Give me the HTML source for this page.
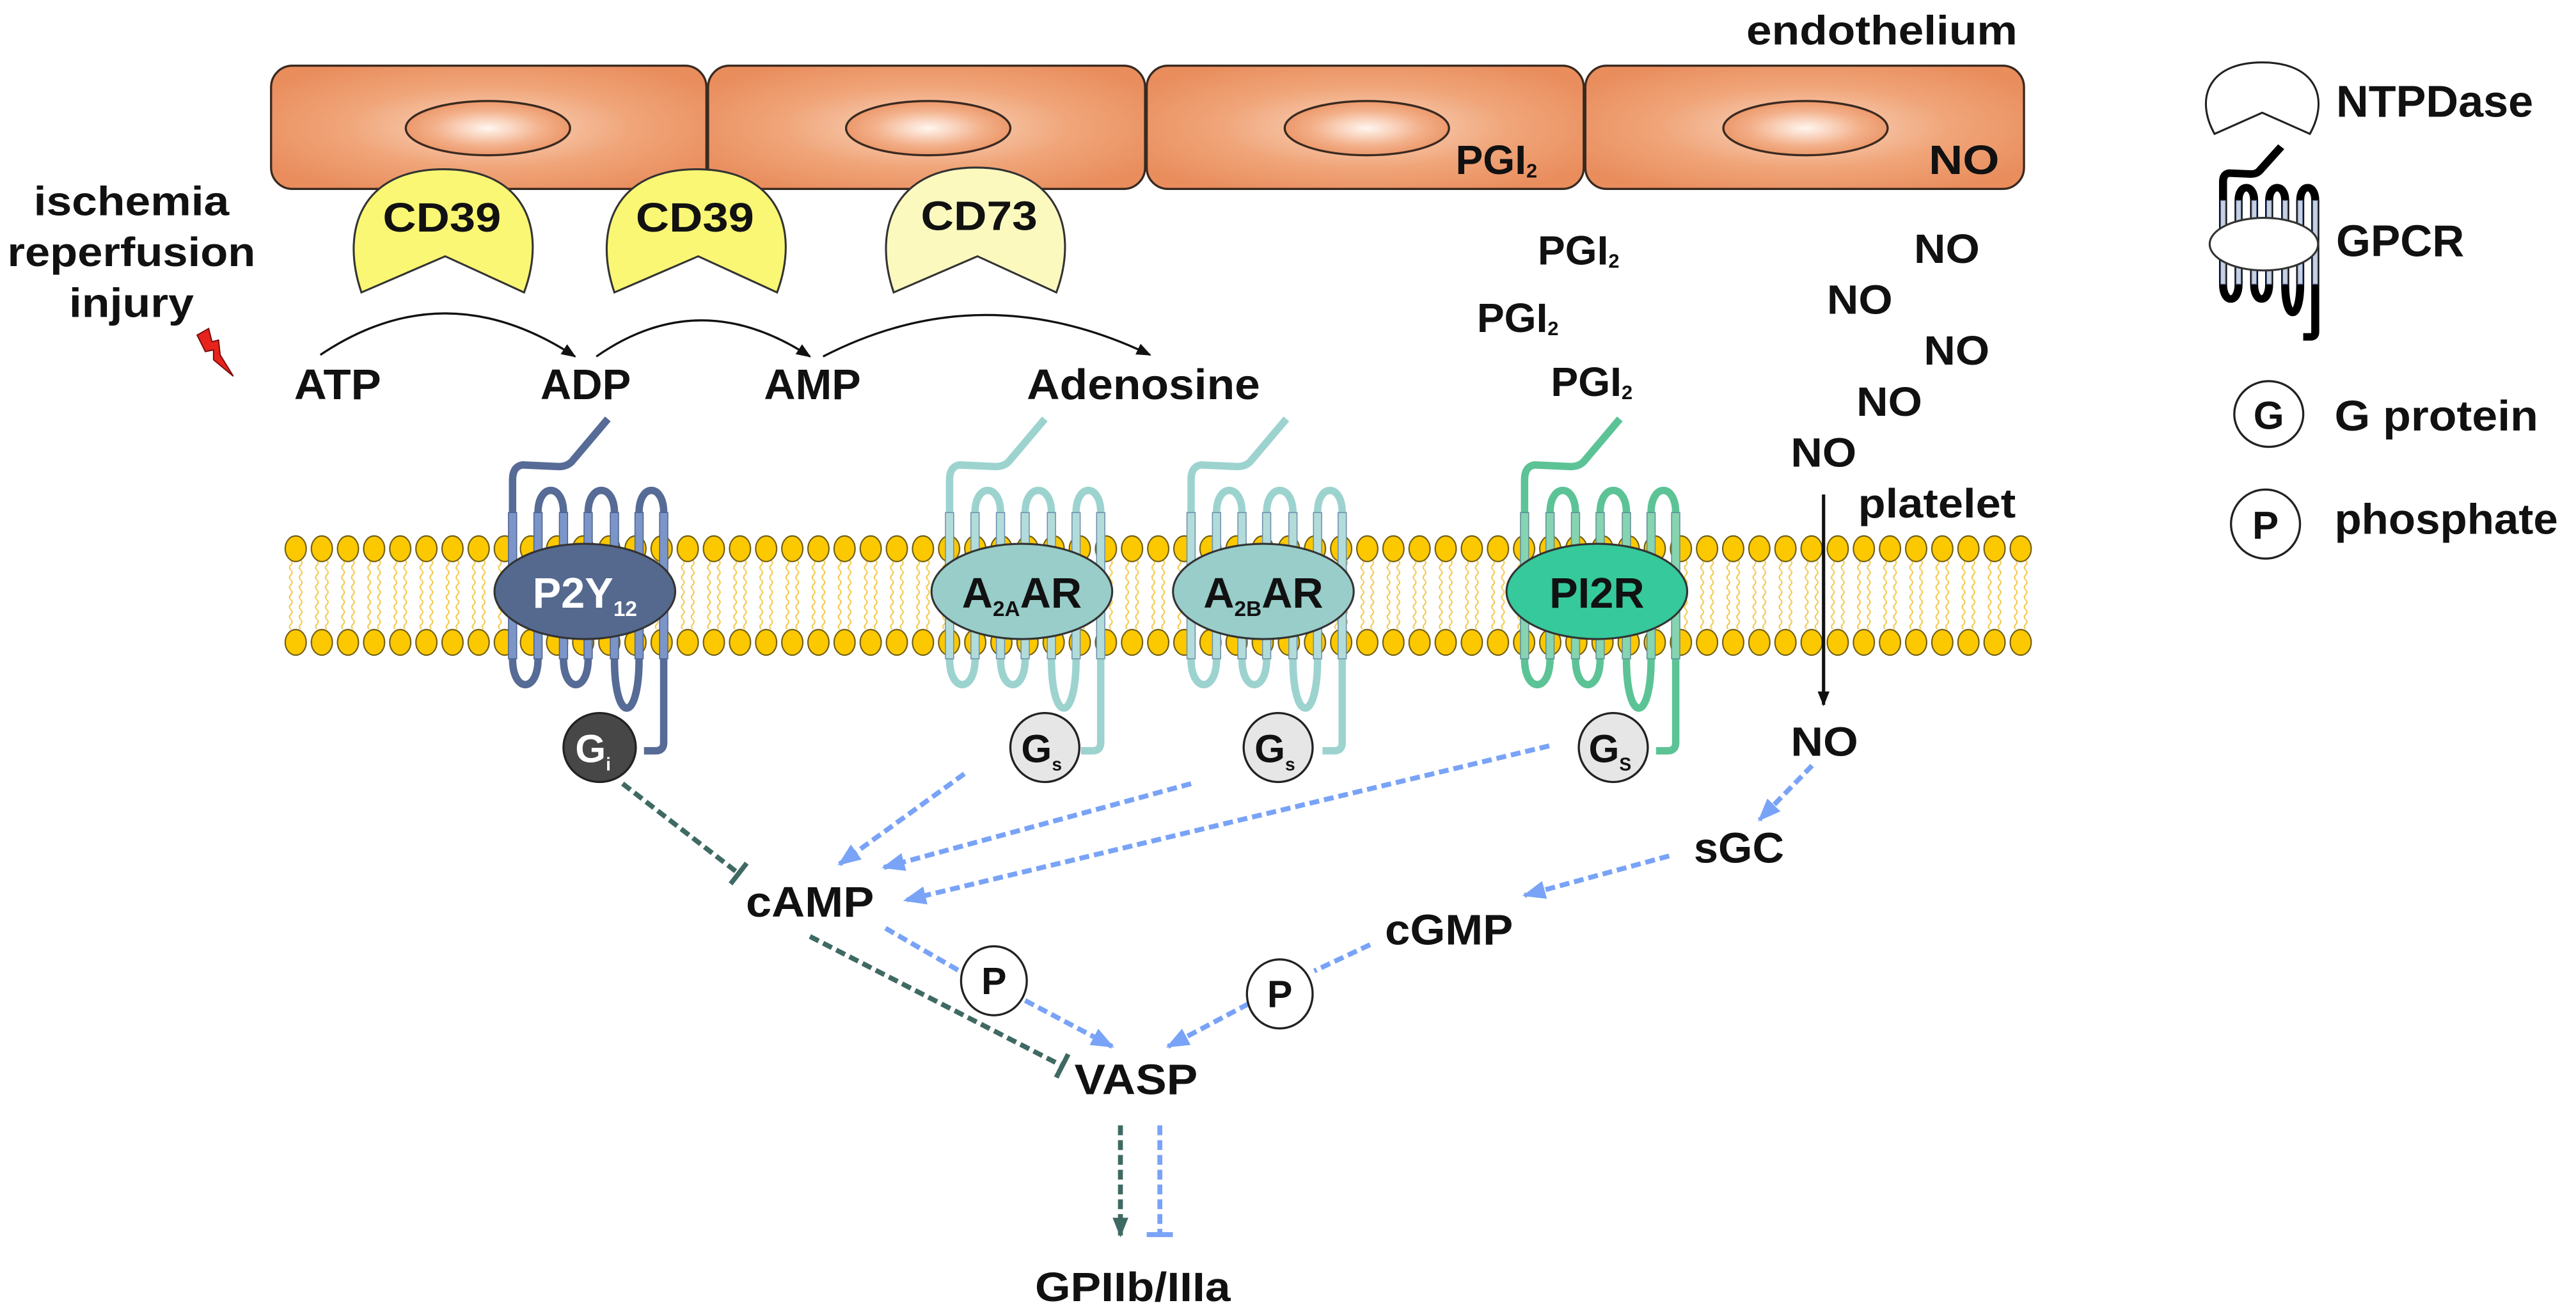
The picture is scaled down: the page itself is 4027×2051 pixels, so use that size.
<!DOCTYPE html>
<html><head><meta charset="utf-8">
<style>
html,body{margin:0;padding:0;background:#fff;}
svg{display:block;}
text{font-family:"Liberation Sans",Arial,sans-serif;font-weight:bold;fill:#111;}
</style></head>
<body>
<svg xmlns="http://www.w3.org/2000/svg" xmlns:xlink="http://www.w3.org/1999/xlink" width="4027" height="2051" viewBox="0 0 1568 798.6" preserveAspectRatio="none">
<defs>
<radialGradient id="cell" cx="50%" cy="50%" r="60%">
<stop offset="0" stop-color="#fad9c4"/><stop offset="0.55" stop-color="#f0a579"/><stop offset="1" stop-color="#e98d5d"/>
</radialGradient>
<radialGradient id="nuc" cx="50%" cy="50%" r="55%">
<stop offset="0" stop-color="#fff6f0"/><stop offset="0.6" stop-color="#f3b08a"/><stop offset="1" stop-color="#ea9262"/>
</radialGradient>
<pattern id="heads" patternUnits="userSpaceOnUse" x="172.045" y="325.5" width="15.909" height="17">
<ellipse cx="7.955" cy="8.5" rx="6.4" ry="7.8" fill="#fcc800" stroke="#6b5a10" stroke-width="0.8"/>
</pattern>
<pattern id="tails" patternUnits="userSpaceOnUse" x="172.045" y="341" width="15.909" height="6">
<path d="M4.955,0 Q6.555,1.5 4.955,3 Q3.355,4.5 4.955,6 M10.955,0 Q12.555,1.5 10.955,3 Q9.355,4.5 10.955,6" fill="none" stroke="#f3c94a" stroke-width="0.8"/>
</pattern>
<path id="chain" fill="none" stroke-linejoin="round" d="M14,255 L-8,281 Q-11,284 -16,284 L-38,283 Q-44,284 -44,292 V401 C-44,422 -28.5,422 -28.5,401 V312 C-28.5,294 -13,294 -13,312 V401 C-13,422 2,422 2,401 V312 C2,294 18,294 18,312 V401 C18,441 33,441 33,401 V312 C33,294 48,294 48,312 V452 Q48,457 43,457 L36,457"/>
<g id="hel">
<rect x="-46.5" y="312" width="5" height="89"/>
<rect x="-31" y="312" width="5" height="89"/>
<rect x="-15.5" y="312" width="5" height="89"/>
<rect x="-0.5" y="312" width="5" height="89"/>
<rect x="15.5" y="312" width="5" height="89"/>
<rect x="30.5" y="312" width="5" height="89"/>
<rect x="45.5" y="312" width="5" height="89"/>
</g>
<marker id="ab" markerUnits="userSpaceOnUse" markerWidth="14" markerHeight="14" refX="9" refY="5" orient="auto" viewBox="0 0 10 10"><path d="M0,1 L10,5 L0,9 Z" fill="#79a3f7"/></marker>
<marker id="ad" markerUnits="userSpaceOnUse" markerWidth="12" markerHeight="12" refX="9" refY="5" orient="auto" viewBox="0 0 10 10"><path d="M0,1 L10,5 L0,9 Z" fill="#3f6a63"/></marker>
<marker id="ak" markerUnits="userSpaceOnUse" markerWidth="9" markerHeight="9" refX="9" refY="5" orient="auto" viewBox="0 0 10 10"><path d="M0,1 L10,5 L0,9 Z" fill="#111"/></marker>
<marker id="tb" markerUnits="userSpaceOnUse" markerWidth="4" markerHeight="16" refX="2" refY="8" orient="auto" viewBox="0 0 4 16"><rect x="0" y="0" width="3" height="16" fill="#79a3f7"/></marker>
<marker id="td" markerUnits="userSpaceOnUse" markerWidth="4" markerHeight="16" refX="2" refY="8" orient="auto" viewBox="0 0 4 16"><rect x="0" y="0" width="3" height="16" fill="#3f6a63"/></marker>
</defs>

<!-- endothelium cells -->
<g stroke="#3a2a20" stroke-width="1.3">
<rect x="165" y="40" width="265" height="75" rx="13" fill="url(#cell)"/>
<rect x="431" y="40" width="266" height="75" rx="13" fill="url(#cell)"/>
<rect x="698" y="40" width="266" height="75" rx="13" fill="url(#cell)"/>
<rect x="965" y="40" width="267" height="75" rx="13" fill="url(#cell)"/>
<ellipse cx="297" cy="78" rx="50" ry="16.5" fill="url(#nuc)"/>
<ellipse cx="565" cy="78" rx="50" ry="16.5" fill="url(#nuc)"/>
<ellipse cx="832" cy="78" rx="50" ry="16.5" fill="url(#nuc)"/>
<ellipse cx="1099" cy="78" rx="50" ry="16.5" fill="url(#nuc)"/>
</g>
<text x="1063" y="27" font-size="25" textLength="165" lengthAdjust="spacingAndGlyphs">endothelium</text>
<text x="886" y="106" font-size="25">PGI<tspan font-size="12" dy="2">2</tspan></text>
<text x="1174" y="106" font-size="25" textLength="43" lengthAdjust="spacingAndGlyphs">NO</text>

<!-- enzymes -->
<g stroke="#333" stroke-width="1.2">
<path d="M220,178 L271,156 L319,178 C333,140 320,103 270,103 C220,103 207,140 220,178 Z" fill="#f9f774"/>
<path d="M374,178 L425,156 L473,178 C487,140 474,103 424,103 C374,103 361,140 374,178 Z" fill="#f9f774"/>
<path d="M544,178 L595,156 L643,178 C657,140 644,102 594,102 C544,102 531,140 544,178 Z" fill="#fcf9bf"/>
</g>
<text x="269" y="141" font-size="25" text-anchor="middle" textLength="72" lengthAdjust="spacingAndGlyphs">CD39</text>
<text x="423" y="141" font-size="25" text-anchor="middle" textLength="72" lengthAdjust="spacingAndGlyphs">CD39</text>
<text x="596" y="140" font-size="25" text-anchor="middle" textLength="71" lengthAdjust="spacingAndGlyphs">CD73</text>

<!-- ischemia -->
<text x="80" y="131" font-size="25" text-anchor="middle" textLength="119" lengthAdjust="spacingAndGlyphs">ischemia</text>
<text x="80" y="162" font-size="25" text-anchor="middle" textLength="151" lengthAdjust="spacingAndGlyphs">reperfusion</text>
<text x="80" y="193" font-size="25" text-anchor="middle" textLength="76" lengthAdjust="spacingAndGlyphs">injury</text>
<polygon points="120,204 127,200 129,208 133,207 134,216 142,229 130,219 130,213 125,214" fill="#e8231b" stroke="#7a1010" stroke-width="0.8"/>

<!-- nucleotides -->
<g fill="none" stroke="#111" stroke-width="1.3">
<path d="M195,216 Q271,165 350,217" marker-end="url(#ak)"/>
<path d="M363,217 Q426,173 493,217" marker-end="url(#ak)"/>
<path d="M501,217 Q598,167 700,216" marker-end="url(#ak)"/>
</g>
<text x="179" y="243" font-size="26" textLength="53" lengthAdjust="spacingAndGlyphs">ATP</text>
<text x="329" y="243" font-size="26" textLength="55" lengthAdjust="spacingAndGlyphs">ADP</text>
<text x="465" y="243" font-size="26" textLength="59" lengthAdjust="spacingAndGlyphs">AMP</text>
<text x="625" y="243" font-size="26" textLength="142" lengthAdjust="spacingAndGlyphs">Adenosine</text>

<!-- PGI2 / NO -->
<text x="936" y="161" font-size="25">PGI<tspan font-size="12" dy="2">2</tspan></text>
<text x="899" y="202" font-size="25">PGI<tspan font-size="12" dy="2">2</tspan></text>
<text x="944" y="241" font-size="25">PGI<tspan font-size="12" dy="2">2</tspan></text>
<text x="1165" y="160" font-size="25" textLength="40" lengthAdjust="spacingAndGlyphs">NO</text>
<text x="1112" y="191" font-size="25" textLength="40" lengthAdjust="spacingAndGlyphs">NO</text>
<text x="1171" y="222" font-size="25" textLength="40" lengthAdjust="spacingAndGlyphs">NO</text>
<text x="1130" y="253" font-size="25" textLength="40" lengthAdjust="spacingAndGlyphs">NO</text>
<text x="1090" y="284" font-size="25" textLength="40" lengthAdjust="spacingAndGlyphs">NO</text>
<text x="1131" y="315" font-size="25" textLength="96" lengthAdjust="spacingAndGlyphs">platelet</text>

<!-- membrane -->
<rect x="172.045" y="341" width="1065.9" height="42" fill="url(#tails)"/>
<rect x="172.045" y="325.5" width="1065.9" height="17" fill="url(#heads)"/>
<g transform="translate(0,57)"><rect x="172.045" y="325.5" width="1065.9" height="17" fill="url(#heads)"/></g>

<!-- receptors -->
<use xlink:href="#chain" href="#chain" x="356" stroke="#566b95" stroke-width="4.5"/>
<use xlink:href="#hel" href="#hel" x="356" fill="#7c95c8" stroke="#4d6390" stroke-width="0.6"/>
<ellipse cx="356" cy="360" rx="55" ry="29" fill="#55698e" stroke="#333" stroke-width="1.2"/>
<use xlink:href="#chain" href="#chain" x="622" stroke="#9dd3cf" stroke-width="4.5"/>
<use xlink:href="#hel" href="#hel" x="622" fill="#b2dcd9" stroke="#6d8fae" stroke-width="0.6"/>
<ellipse cx="622" cy="360" rx="55" ry="29" fill="#98cdc9" stroke="#333" stroke-width="1.2"/>
<use xlink:href="#chain" href="#chain" x="769" stroke="#9dd3cf" stroke-width="4.5"/>
<use xlink:href="#hel" href="#hel" x="769" fill="#b2dcd9" stroke="#6d8fae" stroke-width="0.6"/>
<ellipse cx="769" cy="360" rx="55" ry="29" fill="#98cdc9" stroke="#333" stroke-width="1.2"/>
<use xlink:href="#chain" href="#chain" x="972" stroke="#5cc396" stroke-width="4.5"/>
<use xlink:href="#hel" href="#hel" x="972" fill="#86d4b0" stroke="#5f8f9a" stroke-width="0.6"/>
<ellipse cx="972" cy="360" rx="55" ry="29" fill="#35c99b" stroke="#333" stroke-width="1.2"/>

<!-- receptor labels -->
<text x="356" y="370" font-size="26" text-anchor="middle" style="fill:#fff">P2Y<tspan font-size="13" dy="5" style="fill:#fff">12</tspan></text>
<text x="622" y="370" font-size="26" text-anchor="middle">A<tspan font-size="13" dy="5">2A</tspan><tspan dy="-5">AR</tspan></text>
<text x="769" y="370" font-size="26" text-anchor="middle">A<tspan font-size="13" dy="5">2B</tspan><tspan dy="-5">AR</tspan></text>
<text x="972" y="370" font-size="26" text-anchor="middle">PI2R</text>

<!-- NO arrow through membrane -->
<line x1="1110" y1="301" x2="1110" y2="429" stroke="#111" stroke-width="2" marker-end="url(#ak)"/>
<text x="1090" y="460" font-size="25" textLength="41" lengthAdjust="spacingAndGlyphs">NO</text>

<!-- G proteins -->
<g stroke="#222" stroke-width="1.3">
<ellipse cx="365" cy="455" rx="22" ry="21" fill="#474747"/>
<ellipse cx="636" cy="455" rx="21" ry="21" fill="#e6e6e6"/>
<ellipse cx="778" cy="455" rx="21" ry="21" fill="#e6e6e6"/>
<ellipse cx="982" cy="455" rx="21" ry="21" fill="#e6e6e6"/>
</g>
<text x="361" y="464" font-size="24" text-anchor="middle" style="fill:#fff">G<tspan font-size="11" dy="5" style="fill:#fff">i</tspan></text>
<text x="634" y="464" font-size="24" text-anchor="middle">G<tspan font-size="11" dy="5">s</tspan></text>
<text x="776" y="464" font-size="24" text-anchor="middle">G<tspan font-size="11" dy="5">s</tspan></text>
<text x="980" y="464" font-size="24" text-anchor="middle">G<tspan font-size="11" dy="5">S</tspan></text>

<!-- signalling arrows -->
<g fill="none" stroke-width="3" stroke-dasharray="6 3">
<g stroke="#79a3f7">
<line x1="587" y1="471" x2="511" y2="526" marker-end="url(#ab)"/>
<line x1="725" y1="477" x2="538" y2="528" marker-end="url(#ab)"/>
<line x1="943" y1="454" x2="551" y2="548" marker-end="url(#ab)"/>
<line x1="1103" y1="466" x2="1071" y2="499" marker-end="url(#ab)"/>
<line x1="1016" y1="521" x2="928" y2="545" marker-end="url(#ab)"/>
<line x1="539" y1="565" x2="584" y2="591"/>
<line x1="624" y1="609" x2="677" y2="637" marker-end="url(#ab)"/>
<line x1="834" y1="575" x2="800" y2="591"/>
<line x1="760" y1="611" x2="711" y2="637" marker-end="url(#ab)"/>
<line x1="706" y1="685" x2="706" y2="752" marker-end="url(#tb)"/>
</g>
<g stroke="#3f6a63">
<line x1="379" y1="477" x2="450" y2="532" marker-end="url(#td)"/>
<line x1="493" y1="570" x2="647" y2="649" marker-end="url(#td)"/>
<line x1="682" y1="685" x2="682" y2="752" marker-end="url(#ad)"/>
</g>
</g>

<!-- phosphates -->
<g fill="#fff" stroke="#222" stroke-width="1.3">
<ellipse cx="605" cy="597" rx="20" ry="21"/>
<ellipse cx="779" cy="605" rx="20" ry="21"/>
</g>
<text x="605" y="605" font-size="23" text-anchor="middle">P</text>
<text x="779" y="613" font-size="23" text-anchor="middle">P</text>

<text x="454" y="558" font-size="26" textLength="78" lengthAdjust="spacingAndGlyphs">cAMP</text>
<text x="1031" y="525" font-size="26" textLength="55" lengthAdjust="spacingAndGlyphs">sGC</text>
<text x="843" y="575" font-size="26" textLength="78" lengthAdjust="spacingAndGlyphs">cGMP</text>
<text x="654" y="666" font-size="26" textLength="75" lengthAdjust="spacingAndGlyphs">VASP</text>
<text x="630" y="792" font-size="25" textLength="119" lengthAdjust="spacingAndGlyphs">GPIIb/IIIa</text>

<!-- legend -->
<path d="M1348,81.5 L1377,68.6 L1406,81.5 C1418,60 1410,38 1377,38 C1344,38 1336,60 1348,81.5 Z" fill="#fff" stroke="#222" stroke-width="1.2"/>
<g transform="translate(1380,-56.8) scale(0.61,0.573)">
<use xlink:href="#chain" href="#chain" stroke="#000" stroke-width="8"/>
<use xlink:href="#hel" href="#hel" fill="#c8d0e0" stroke="#4d6390" stroke-width="0.8"/>
</g>
<ellipse cx="1378" cy="148.6" rx="33" ry="16" fill="#fff" stroke="#333" stroke-width="1.2"/>
<text x="1422" y="71" font-size="27" textLength="120" lengthAdjust="spacingAndGlyphs">NTPDase</text>
<text x="1422" y="156" font-size="27">GPCR</text>
<ellipse cx="1381" cy="252" rx="21" ry="20" fill="#fff" stroke="#222" stroke-width="1.3"/>
<text x="1381" y="261" font-size="24" text-anchor="middle">G</text>
<text x="1421" y="262" font-size="26" textLength="124" lengthAdjust="spacingAndGlyphs">G protein</text>
<ellipse cx="1379" cy="319" rx="21" ry="21" fill="#fff" stroke="#222" stroke-width="1.3"/>
<text x="1379" y="328" font-size="24" text-anchor="middle">P</text>
<text x="1421" y="325" font-size="26" textLength="136" lengthAdjust="spacingAndGlyphs">phosphate</text>
</svg>
</body></html>
